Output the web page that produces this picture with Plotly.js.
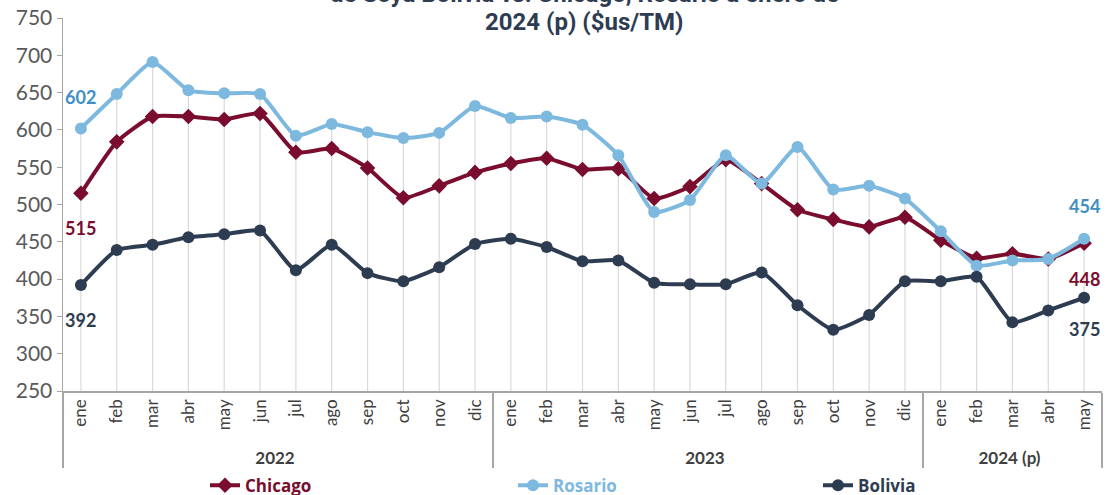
<!DOCTYPE html>
<html>
<head>
<meta charset="utf-8">
<script src="https://cdn.plot.ly/plotly-3.0.1.min.js"></script>
<style>
  html, body { margin: 0; padding: 0; background: #fff; }
  #chart { width: 1112px; height: 495px; }
</style>
</head>
<body>
<div id="chart"></div>
<script>
// categories
const anios = ['2022','2022','2022','2022','2022','2022','2022','2022','2022','2022','2022','2022',
               '2023','2023','2023','2023','2023','2023','2023','2023','2023','2023','2023','2023',
               '2024 (p)','2024 (p)','2024 (p)','2024 (p)','2024 (p)'];
const meses = ['ene','feb','mar','abr','may','jun','jul','ago','sep','oct','nov','dic',
               'ene','feb','mar','abr','may','jun','jul','ago','sep','oct','nov','dic',
               'ene','feb','mar','abr','may'];

// series ($us/TM)
const chicago = [515, 584, 618, 618, 614, 622, 570, 575, 549, 509, 525, 543,
                 555, 562, 547, 548, 508, 524, 560, 528, 493, 480, 470, 483,
                 452, 428, 434, 427, 448];
const rosario = [602, 648, 691, 653, 649, 648, 592, 608, 597, 589, 596, 632,
                 616, 618, 607, 566, 490, 506, 566, 528, 577, 520, 525, 508,
                 464, 418, 425, 427, 454];
const bolivia = [392, 439, 446, 456, 460, 465, 412, 446, 408, 397, 416, 447,
                 454, 443, 424, 425, 395, 393, 393, 409, 365, 332, 352, 397,
                 397, 403, 342, 358, 375];

const colChicago = '#7a0c2e';
const colRosario = '#7db9df';
const colBolivia = '#2e3c51';
const yMin = 250;

// drop lines from the axis up to the highest series in each month
const top3 = meses.map((m, i) => Math.max(chicago[i], rosario[i], bolivia[i]));

// year labels are bold in the original
const xcat = [anios.map(a => '<b>' + a + '</b>'), meses];

const drop = {
  x: xcat, y: top3, type: 'scatter', mode: 'markers',
  marker: {opacity: 0, size: 1},
  error_y: {type: 'data', symmetric: false,
            array: top3.map(() => 0),
            arrayminus: top3.map(v => v - yMin),
            color: '#d9d9d9', thickness: 1.2, width: 0},
  hoverinfo: 'skip', showlegend: false
};

function serie(name, y, color, symbol, size, leg) {
  return {
    x: xcat, y: y, type: 'scatter', mode: 'lines+markers',
    name: '<span style="color:' + color + '">' + name + '</span>',
    legend: leg,
    line: {color: color, width: 4, shape: 'spline', smoothing: 0.5},
    marker: {color: color, symbol: symbol, size: size}
  };
}

const data = [
  drop,
  serie('Chicago', chicago, colChicago, 'diamond', 12, 'legend'),
  serie('Rosario', rosario, colRosario, 'circle', 12, 'legend2'),
  serie('Bolivia', bolivia, colBolivia, 'circle', 12, 'legend3')
];

const last = meses.length - 1;
function etiqueta(i, y, color, dy) {
  return {x: i, y: y, xref: 'x', yref: 'y', text: '<b>' + y + '</b>',
          showarrow: false, yshift: dy,
          font: {family: 'Lato, sans-serif', size: 18, color: color}};
}

function leyenda(px) {
  return {orientation: 'h', xref: 'container', yref: 'container',
          x: px / 1112, xanchor: 'left', y: 0.055, yanchor: 'top',
          bgcolor: 'rgba(0,0,0,0)',
          font: {family: 'Open Sans, sans-serif', size: 17, weight: 'bold', color: '#333'}};
}

function titulo(texto, py) {
  return {xref: 'paper', yref: 'paper', x: 0.5015, y: (391 - py) / 373,
          xanchor: 'center', yanchor: 'middle', showarrow: false,
          text: '<b>' + texto + '</b>',
          font: {family: 'Roboto, sans-serif', size: 24, color: '#2e3c51'}};
}

const layout = {
  width: 1112, height: 495,
  margin: {l: 63, r: 10, t: 18, b: 104},
  paper_bgcolor: '#ffffff', plot_bgcolor: '#ffffff',
  showlegend: true,
  legend: leyenda(205),
  legend2: leyenda(513),
  legend3: leyenda(818),
  xaxis: {
    type: 'multicategory',
    range: [-0.5, meses.length - 0.5], autorange: false,
    showgrid: false, zeroline: false,
    showline: true, linecolor: '#a6a6a6', linewidth: 1.5,
    ticks: '', tickangle: -90,
    showdividers: true, dividercolor: '#a6a6a6', dividerwidth: 1.5,
    tickfont: {family: 'Lato, sans-serif', size: 17, color: '#404040'}
  },
  yaxis: {
    range: [250, 750], dtick: 50, tick0: 250,
    showgrid: false, zeroline: false,
    showline: true, linecolor: '#a6a6a6', linewidth: 1.5,
    ticks: 'outside', ticklen: 5, tickcolor: '#a6a6a6',
    tickfont: {family: 'Lato, sans-serif', size: 21, color: '#595959'}
  },
  annotations: [
    titulo('de Soya Bolivia vs. Chicago, Rosario a enero de', -6),
    titulo('2024 (p) ($us/TM)', 22),
    etiqueta(0, rosario[0], '#3d8fc4', 31),
    etiqueta(0, chicago[0], colChicago, -35),
    etiqueta(0, bolivia[0], colBolivia, -35),
    etiqueta(last, rosario[last], '#3d8fc4', 33),
    etiqueta(last, chicago[last], colChicago, -36),
    etiqueta(last, bolivia[last], colBolivia, -31)
  ]
};

Plotly.newPlot('chart', data, layout, {displayModeBar: false, staticPlot: true});
</script>
</body>
</html>
